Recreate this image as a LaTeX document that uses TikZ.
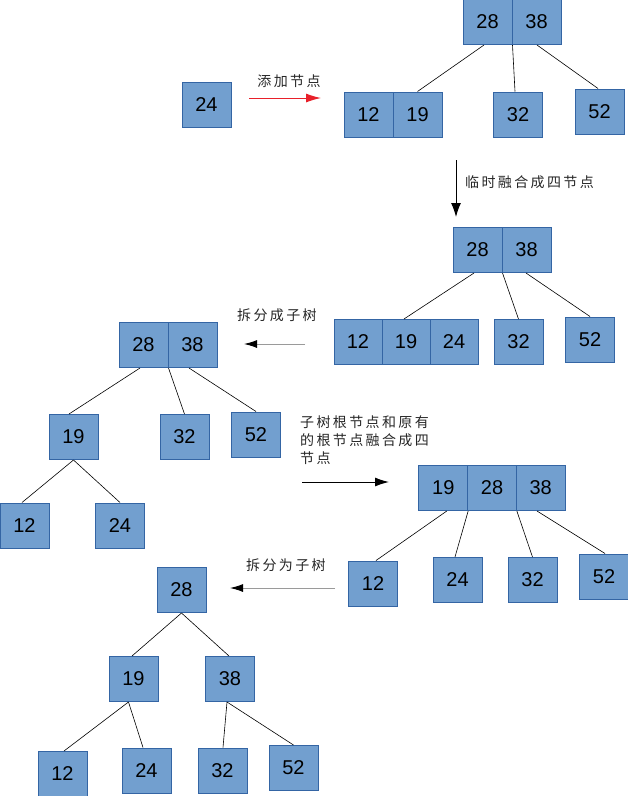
\documentclass[tikz,border=0pt]{standalone}
\usepackage{fontspec}
\setmainfont{Liberation Sans}
\newfontfamily\cjk[LetterSpace=17]{Noto Sans CJK SC}
\usetikzlibrary{arrows.meta}
\definecolor{cellfill}{HTML}{729FCF}
\definecolor{celldraw}{HTML}{3465A4}
\definecolor{arrred}{HTML}{E8202A}
\definecolor{arrgray}{HTML}{9A9A9A}
\tikzset{
  cell/.style={rectangle, draw=celldraw, fill=cellfill, line width=1pt,
    minimum width=49pt, minimum height=45pt, inner sep=0pt,
    font=\fontsize{20}{24}\selectfont},
  link/.style={line width=0.6pt, black},
  lbl/.style={font=\cjk\fontsize{14}{18}\selectfont, inner sep=0pt, text=black!85},
}
\begin{document}
\begin{tikzpicture}[x=1pt, y=-1pt]
\useasboundingbox (0,0) rectangle (628,796);

% ---- tree 1
\node[cell] (A1) at (487.5,22) {28};
\node[cell] (A2) at (536.5,22) {38};
\node[cell] (B) at (206.5,104.5) {24};
\node[cell] (C1) at (368.5,114.5) {12};
\node[cell] (C2) at (417.5,114.5) {19};
\node[cell] (C3) at (518,114.5) {32};
\node[cell] (C4) at (599.5,111.5) {52};
\draw[link] ([xshift=-3.5pt]A1.south) -- (C2.north);
\draw[link] (A1.south east) -- ([xshift=-3pt]C3.north);
\draw[link] ([xshift=0.5pt]A2.south) -- ([xshift=-1.5pt]C4.north);

\coordinate (r1s) at (249,98);
\coordinate (r1e) at (321,98);
\draw[arrred, line width=1pt, -{Latex[length=15pt,width=9pt]}] (r1s) -- (r1e);
\node[lbl] (L1) at (289,81) {添加节点};

\coordinate (d1s) at (456,160);
\coordinate (d1e) at (456,217);
\draw[black, line width=1pt, -{Latex[length=14pt,width=10pt]}] (d1s) -- (d1e);
\node[lbl, anchor=west] (L2) at (465,182) {临时融合成四节点};

% ---- tree 2
\node[cell] (D1) at (477.5,250) {28};
\node[cell] (D2) at (526.5,250) {38};
\node[cell, minimum width=48pt] (E1) at (358,342) {12};
\node[cell, minimum width=48pt] (E2) at (406,342) {19};
\node[cell, minimum width=48pt] (E3) at (454,342) {24};
\node[cell] (E4) at (518.5,342) {32};
\node[cell] (E5) at (590,339.5) {52};
\draw[link] ([xshift=-3.5pt]D1.south) -- ([xshift=-2pt]E2.north);
\draw[link] (D1.south east) -- (E4.north);
\draw[link] ([xshift=-0.5pt]D2.south) -- (E5.north);

\coordinate (g1s) at (305,344);
\coordinate (g1e) at (244,344);
\draw[arrgray, line width=1pt, -{Latex[length=13pt,width=8pt,color=black]}] (g1s) -- (g1e);
\node[lbl] (L3) at (277,315) {拆分成子树};

% ---- tree 3
\node[cell] (F1) at (143.5,345) {28};
\node[cell] (F2) at (192.5,345) {38};
\node[cell] (G1) at (73.5,437) {19};
\node[cell] (G2) at (184.5,437) {32};
\node[cell] (G3) at (256,434.5) {52};
\node[cell] (H1) at (24.5,525.5) {12};
\node[cell] (H2) at (120,525.5) {24};
\draw[link] ([xshift=-3.5pt]F1.south) -- ([xshift=-4.5pt]G1.north);
\draw[link] (F1.south east) -- (G2.north);
\draw[link] ([xshift=-3.5pt]F2.south) -- (G3.north);
\draw[link] (G1.south) -- ([xshift=-2.5pt]H1.north);
\draw[link] (G1.south) -- (H2.north);

\node[lbl, anchor=west, align=left] (L4) at (300,440) {子树根节点和原有\\的根节点融合成四\\节点};
\coordinate (b1s) at (302,482);
\coordinate (b1e) at (389,482);
\draw[black, line width=1pt, -{Latex[length=14pt,width=9pt]}] (b1s) -- (b1e);

% ---- tree 4
\node[cell, minimum width=48.7pt] (I1) at (443.3,488) {19};
\node[cell, minimum width=48.7pt] (I2) at (492,488) {28};
\node[cell, minimum width=48.7pt] (I3) at (540.7,488) {38};
\node[cell] (J1) at (373,583.5) {12};
\node[cell] (J2) at (457.5,580) {24};
\node[cell] (J3) at (532.5,580) {32};
\node[cell] (J4) at (604,576.5) {52};
\draw[link] ([xshift=3.5pt]I1.south) -- ([xshift=3pt]J1.north);
\draw[link] (I1.south east) -- ([xshift=-2.5pt]J2.north);
\draw[link] (I2.south east) -- (J3.north);
\draw[link] ([xshift=-3.7pt]I3.south) -- ([xshift=1pt]J4.north);

\coordinate (g2s) at (335,588);
\coordinate (g2e) at (230,588);
\draw[arrgray, line width=1pt, -{Latex[length=13pt,width=8pt,color=black]}] (g2s) -- (g2e);
\node[lbl] (L5) at (286,565) {拆分为子树};

% ---- tree 5
\node[cell] (K) at (181.5,590) {28};
\node[cell] (M1a) at (133.5,679) {19};
\node[cell] (M1b) at (230,679) {38};
\node[cell] (N1) at (62.5,774) {12};
\node[cell] (N2) at (146.5,770.5) {24};
\node[cell] (N3) at (222.5,770.5) {32};
\node[cell] (N4) at (293.5,768) {52};
\draw[link] (K.south) -- ([xshift=-1.5pt]M1a.north);
\draw[link] (K.south) -- ([xshift=-1pt]M1b.north);
\draw[link] ([xshift=-5pt]M1a.south) -- ([xshift=1.5pt]N1.north);
\draw[link] ([xshift=-5pt]M1a.south) -- ([xshift=-3.5pt]N2.north);
\draw[link] ([xshift=-3pt]M1b.south) -- ([xshift=0.5pt]N3.north);
\draw[link] ([xshift=-3pt]M1b.south) -- (N4.north);
\end{tikzpicture}
\end{document}
